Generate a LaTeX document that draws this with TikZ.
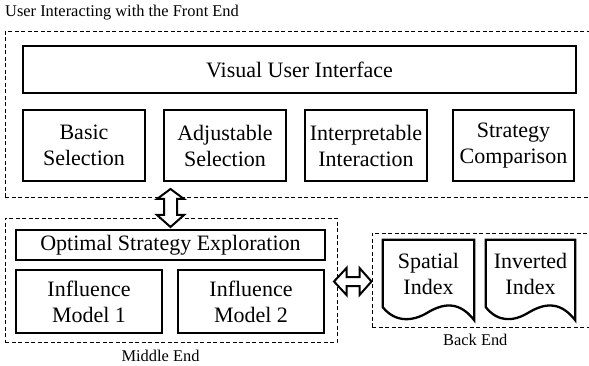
\documentclass[tikz,border=0pt]{standalone}
\usepackage{fontspec}
\setmainfont{Liberation Serif}
\usetikzlibrary{calc}
\newcommand\docoutline[1]{%
  \draw[line width=2.3pt, line join=miter]
    ($(#1.south east)+(0,13)$) .. controls +(-14,-18) and +(17,-10) ..
    ($(#1.south east)+(-46,5)$) .. controls +(-16,10) and +(12,15) ..
    (#1.south west) -- (#1.north west) -- (#1.north east) -- cycle;}
\begin{document}
\begin{tikzpicture}[x=1pt,y=-1pt,
  box/.style={draw, line width=2.3pt, align=center, inner sep=0pt,
    font=\rmfamily\fontsize{22}{26}\selectfont},
  doc/.style={align=center, inner sep=0pt, minimum width=91pt, minimum height=67pt,
    font=\rmfamily\fontsize{22}{26}\selectfont},
  grp/.style={draw, line width=0.9pt, dash pattern=on 4pt off 2.5pt, inner sep=0pt},
  lbl/.style={font=\rmfamily\fontsize{16.4}{19}\selectfont, inner sep=0pt},
  fatarrow/.style={draw, line width=2pt, fill=white, line join=miter}]
\clip (0,0) rectangle (589,366);
% groups
\node[grp, minimum width=590pt, minimum height=166pt] (front) at (300,114.5) {};
\node[grp, minimum width=332pt, minimum height=124pt] (middle) at (171,280) {};
\node[grp, minimum width=223pt, minimum height=94pt] (back) at (483.5,280) {};
% labels
\node[lbl, anchor=base west] (ttl) at (5,17) {User Interacting with the Front End};
\node[lbl, anchor=base] (mlbl) at (160.5,361) {Middle End};
\node[lbl, anchor=base] (blbl) at (475.3,345.7) {Back End};
% front end
\node[box, minimum width=553pt, minimum height=47pt] (vui) at (299.5,69.5) {Visual User Interface};
\node[box, minimum width=122pt, minimum height=71pt] (basic) at (84,145.5) {Basic\\Selection};
\node[box, minimum width=122pt, minimum height=71pt] (adj) at (225,145.5) {Adjustable\\Selection};
\node[box, minimum width=122pt, minimum height=71pt] (interp) at (366,145.5) {Interpretable\\Interaction};
\node[box, minimum width=121pt, minimum height=71pt] (strat) at (513.5,145.5) {Strategy\\Comparison};
% middle end
\node[box, minimum width=309pt, minimum height=30pt] (opt) at (170.5,245) {Optimal Strategy Exploration};
\node[box, minimum width=146pt, minimum height=63pt] (im1) at (89,301.5) {Influence\\Model 1};
\node[box, minimum width=146pt, minimum height=63pt] (im2) at (251,301.5) {Influence\\Model 2};
% back end
\node[doc] (spatial) at (428.5,273.5) {Spatial\\Index};
\node[doc, minimum width=89pt] (inv) at (530.5,273.5) {Inverted\\Index};
\docoutline{spatial}
\docoutline{inv}
% arrows (hollow double arrows)
\draw[fatarrow] (170.5,189) -- (184,199) -- (177,199) -- (177,215) -- (184,215)
  -- (170.5,227) -- (157,215) -- (164,215) -- (164,199) -- (157,199) -- cycle;
\draw[fatarrow] (334,281.5) -- (346.5,268) -- (346.5,277) -- (359.5,277) -- (359.5,268)
  -- (371.5,281.5) -- (359.5,295) -- (359.5,286) -- (346.5,286) -- (346.5,295) -- cycle;
\end{tikzpicture}
\end{document}
